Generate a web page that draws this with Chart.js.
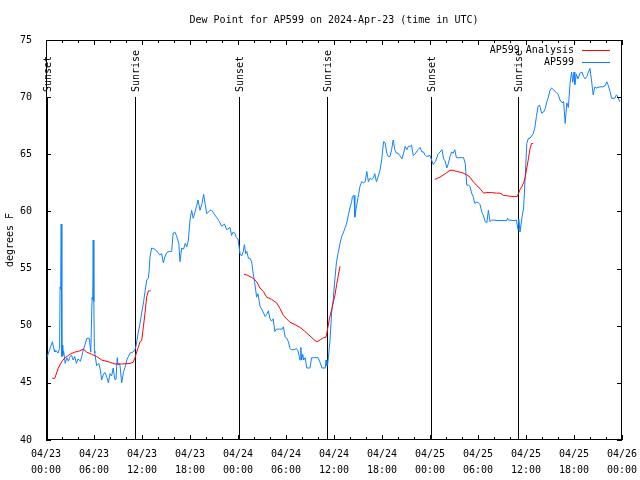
<!DOCTYPE html>
<html>
<head>
<meta charset="utf-8">
<script src="https://cdn.jsdelivr.net/npm/chart.js@4.4.1/dist/chart.umd.min.js"></script>
<style>
  html, body { margin: 0; padding: 0; background: #fff; }
</style>
</head>
<body>
<canvas id="dewChart" width="640" height="480"></canvas>
<script>
// hours since 04/23 00:00 UTC
const stationHours = [
  0.0, 0.1, 0.4, 0.8, 1.0, 1.1, 1.3, 1.5, 1.7, 1.76, 1.84, 1.9, 1.98, 2.05, 2.1, 2.2, 2.4, 2.6, 2.8, 3.0,
  3.2, 3.4, 3.6, 3.8, 4.0, 4.3, 4.5, 4.67, 4.9, 5.1, 5.4, 5.6, 5.76, 5.84, 5.9, 5.98, 6.05, 6.1, 6.33, 6.6,
  6.8, 6.96, 7.2, 7.4, 7.6, 7.8, 8.0, 8.2, 8.4, 8.6, 8.75, 8.9, 9.0, 9.1, 9.25, 9.46, 9.67, 9.9, 10.1, 10.3,
  10.5, 10.9, 11.1, 11.25, 11.5, 11.7, 11.96, 12.2, 12.4, 12.6, 12.8, 12.9, 13.0, 13.2, 13.6, 14.0, 14.2, 14.46, 14.67, 14.9,
  15.1, 15.4, 15.7, 15.9, 16.1, 16.3, 16.6, 16.75, 16.96, 17.2, 17.4, 17.6, 17.8, 18.0, 18.2, 18.4, 18.6, 18.8, 19.0, 19.25,
  19.5, 19.7, 19.9, 20.1, 20.5, 20.7, 21.0, 21.3, 21.6, 21.96, 22.3, 22.6, 23.0, 23.2, 23.4, 23.6, 23.8, 24.0, 24.25, 24.46,
  24.67, 24.8, 24.96, 25.1, 25.3, 25.5, 25.7, 25.9, 26.1, 26.33, 26.5, 26.75, 27.0, 27.2, 27.4, 27.6, 27.8, 28.0, 28.2, 28.4,
  28.6, 28.8, 29.2, 29.5, 29.67, 29.9, 30.1, 30.3, 30.5, 30.7, 31.0, 31.3, 31.5, 31.75, 31.85, 31.96, 32.1, 32.2, 32.4, 32.6,
  33.0, 33.2, 33.6, 34.0, 34.25, 34.5, 34.9, 35.0, 35.1, 35.2, 35.3, 35.5, 35.7, 35.9, 36.1, 36.3, 36.5, 36.75, 36.96, 37.2,
  37.4, 37.6, 37.8, 38.0, 38.2, 38.3, 38.5, 38.6, 38.8, 39.0, 39.25, 39.46, 39.7, 39.9, 40.1, 40.3, 40.5, 40.7, 40.9, 41.1,
  41.3, 41.5, 41.75, 41.96, 42.2, 42.4, 42.6, 42.8, 43.0, 43.2, 43.4, 43.6, 43.8, 44.0, 44.2, 44.5, 44.7, 44.9, 45.1, 45.3,
  45.5, 45.7, 45.9, 46.1, 46.3, 46.5, 46.75, 47.0, 47.2, 47.4, 47.6, 48.0, 48.2, 48.4, 48.7, 49.0, 49.25, 49.5, 49.7, 49.9,
  50.1, 50.3, 50.5, 50.7, 50.9, 51.1, 51.3, 51.6, 52.0, 52.2, 52.4, 52.6, 52.8, 53.0, 53.2, 53.4, 53.6, 53.8, 54.0, 54.25,
  54.5, 54.7, 54.9, 55.1, 55.3, 55.5, 55.7, 56.5, 57.6, 57.7, 57.8, 58.5, 58.8, 59.0, 59.1, 59.25, 59.5, 59.7, 59.9, 60.1,
  60.3, 60.5, 60.9, 61.1, 61.3, 61.5, 61.7, 61.96, 62.2, 62.4, 62.6, 62.8, 63.0, 63.2, 63.5, 63.8, 64.0, 64.25, 64.5, 64.7,
  64.9, 65.1, 65.3, 65.5, 65.7, 65.85, 66.0, 66.1, 66.3, 66.5, 66.75, 67.0, 67.2, 67.4, 67.6, 67.8, 68.0, 68.2, 68.4, 68.6,
  68.8, 69.25, 69.6, 69.9, 70.1, 70.3, 70.5, 70.7, 71.1, 71.3, 71.5, 71.7
];
const stationValues = [
  47.0, 47.2, 47.8, 48.6, 47.9, 47.7, 47.8, 47.6, 48.0, 53.4, 53.2, 58.9, 47.3, 48.3, 47.4, 47.8, 46.7, 47.2, 46.9, 47.3,
  47.4, 47.0, 47.3, 46.7, 47.1, 46.9, 47.4, 47.9, 48.4, 48.9, 48.9, 47.7, 52.5, 52.3, 57.5, 52.1, 47.8, 47.6, 46.5, 46.7,
  46.1, 45.25, 45.8, 45.9, 45.5, 45.0, 45.8, 45.6, 46.3, 45.3, 45.3, 47.2, 46.6, 46.7, 46.5, 45.0, 45.9, 46.4, 47.0, 47.3,
  47.6, 47.7, 47.9, 48.2, 49.3, 50.0, 51.1, 52.1, 53.1, 54.0, 54.2, 54.9, 56.0, 56.8, 56.7, 56.4, 56.2, 56.3, 55.5, 56.1,
  56.4, 56.5, 56.5, 58.1, 58.2, 57.9, 57.2, 55.6, 56.8, 56.7, 57.2, 56.9, 57.5, 59.25, 60.1, 59.4, 59.9, 60.4, 61.0, 60.1,
  60.7, 61.5, 60.6, 59.8, 60.1, 60.1, 59.8, 59.5, 59.2, 58.7, 58.9, 58.4, 58.6, 57.9, 58.2, 58.1, 57.7, 57.6, 56.3, 56.1,
  56.5, 57.1, 56.3, 56.5, 55.9, 55.9, 55.6, 54.6, 53.7, 52.5, 52.8, 51.7, 51.4, 51.1, 50.8, 51.0, 51.3, 50.6, 50.4, 50.6,
  49.5, 49.7, 49.7, 49.7, 49.9, 49.0, 48.9, 48.6, 48.0, 47.9, 47.9, 48.0, 47.8, 47.0, 48.1, 47.0, 47.5, 47.0, 47.2, 46.3,
  46.3, 47.2, 47.2, 47.2, 46.8, 46.3, 46.3, 47.0, 46.5, 46.6, 47.2, 48.75, 51.1, 52.25, 54.0, 55.5, 56.3, 57.2, 57.8, 58.2,
  58.6, 59.0, 59.7, 60.3, 60.85, 61.3, 61.4, 59.5, 60.4, 61.2, 62.2, 62.6, 62.5, 62.6, 63.5, 62.6, 62.9, 62.8, 62.9, 63.3,
  62.6, 63.0, 63.6, 64.5, 66.1, 66.0, 65.1, 64.8, 64.8, 65.4, 66.25, 65.4, 65.1, 65.1, 64.9, 64.6, 65.1, 65.7, 65.4, 65.7,
  65.7, 65.8, 64.9, 65.0, 65.2, 65.4, 65.6, 65.2, 65.2, 64.9, 64.8, 64.9, 64.5, 64.1, 64.4, 65.0, 65.2, 65.4, 64.6, 64.4,
  63.8, 64.2, 64.8, 65.2, 65.1, 65.4, 64.7, 64.7, 64.7, 64.7, 64.2, 62.3, 62.3, 62.2, 61.6, 61.3, 60.7, 60.8, 60.8, 60.6,
  59.9, 59.6, 59.1, 59.0, 60.1, 59.1, 59.25, 59.2, 59.2, 59.4, 59.25, 59.2, 59.25, 58.4, 59.3, 58.2, 59.5, 60.3, 63.0, 65.95,
  66.4, 66.4, 66.8, 67.3, 68.3, 69.2, 69.3, 68.6, 68.7, 69.0, 69.6, 70.0, 70.6, 70.8, 70.6, 70.4, 70.25, 69.75, 69.5, 69.6,
  67.7, 69.5, 69.1, 71.2, 72.2, 71.3, 72.2, 71.1, 72.0, 71.6, 72.1, 72.2, 71.8, 71.6, 71.8, 72.2, 72.5, 71.4, 70.2, 70.9,
  70.8, 70.9, 70.9, 71.0, 71.35, 71.0, 70.5, 69.9, 69.9, 70.2, 70.0, 69.6
];

// analysis runs, null breaks the line between the three runs
const analysisHours = [
  0.79, 1.1, 1.54, 1.96, 2.375, 3.0, 3.625, 4.04, 4.67, 5.08, 5.7, 6.33, 6.96, 7.8, 8.625, 9.46, 10.5, 10.9, 11.125, 11.33,
  11.54, 11.75, 11.96, 12.17, 12.375, 12.58, 12.8, 13.08,
  13.5,
  24.75, 25.08, 25.5, 25.9, 26.33, 26.75, 27.17, 27.58, 28.2, 28.83, 29.25, 29.67, 30.08, 30.5, 31.125, 31.75, 32.375, 33.0, 33.625, 33.9,
  34.25, 34.67, 35.0, 35.17, 35.42, 35.7, 35.9, 36.125, 36.33, 36.54, 36.75,
  37.5,
  48.6, 49.25, 49.9, 50.5, 50.9, 51.3, 52.0, 52.6, 53.0, 53.4, 53.8, 54.25, 54.7, 55.1, 55.7, 56.3, 56.75, 57.2, 57.8, 58.4,
  58.9, 59.25, 59.5, 59.7, 59.9, 60.1, 60.3, 60.5, 60.7, 60.9
];
const analysisValues = [
  45.4, 45.4, 46.3, 46.85, 47.2, 47.5, 47.7, 47.75, 47.95, 47.7, 47.5, 47.3, 47.0, 46.85, 46.65, 46.65, 46.7, 46.8, 47.2, 47.7,
  48.1, 48.6, 48.7, 49.9, 51.1, 52.5, 53.05, 53.05,
  null,
  54.5, 54.45, 54.3, 54.15, 53.85, 53.3, 53.0, 52.5, 52.3, 52.0, 51.5, 50.9, 50.6, 50.3, 50.1, 49.85, 49.5, 49.1, 48.7, 48.6,
  48.75, 48.95, 49.0, 49.6, 50.6, 51.4, 52.0, 52.7, 53.6, 54.4, 55.2,
  null,
  62.8, 63.0, 63.3, 63.6, 63.6, 63.5, 63.4, 63.2, 63.0, 62.6, 62.3, 62.0, 61.6, 61.65, 61.65, 61.6, 61.6, 61.4, 61.35, 61.3,
  61.3, 61.9, 62.2, 62.5, 63.0, 63.8, 64.6, 65.5, 65.95, 65.95
];

const eventHours = [0.08, 11.17, 24.15, 35.15, 48.12, 59.0];
const eventLabels = ['Sunset', 'Sunrise', 'Sunset', 'Sunrise', 'Sunset', 'Sunrise'];

const tickDates = ['04/23', '04/23', '04/23', '04/23', '04/24', '04/24', '04/24', '04/24', '04/25', '04/25', '04/25', '04/25', '04/26'];
const tickTimes = ['00:00', '06:00', '12:00', '18:00', '00:00', '06:00', '12:00', '18:00', '00:00', '06:00', '12:00', '18:00', '00:00'];

const FONT = '"DejaVu Sans Mono", "Liberation Mono", monospace';
const BLUE = '#1080ff';
const RED = '#ff0000';

const toPoints = (xs, ys) => xs.map((h, i) => ({ x: h, y: ys[i] }));

// gnuplot style decorations: frame, inward ticks, sun events, title, legend
const gnuplotDecor = {
  id: 'gnuplotDecor',
  beforeDatasetsDraw(chart) {
    const { ctx, chartArea: a, scales: { x, y } } = chart;
    ctx.save();
    ctx.strokeStyle = '#000';
    ctx.fillStyle = '#000';
    ctx.lineWidth = 1;
    ctx.font = '10px ' + FONT;
    const top = Math.round(y.getPixelForValue(70));
    eventHours.forEach((h, i) => {
      const px = Math.round(x.getPixelForValue(h)) + 0.5;
      ctx.beginPath();
      ctx.moveTo(px, top);
      ctx.lineTo(px, a.bottom);
      ctx.stroke();
      ctx.save();
      ctx.translate(px + 1, top - 5);
      ctx.rotate(-Math.PI / 2);
      ctx.textAlign = 'left';
      ctx.textBaseline = 'middle';
      ctx.fillText(eventLabels[i], 0, 0);
      ctx.restore();
    });
    ctx.restore();
  },
  afterDatasetsDraw(chart) {
    const { ctx, chartArea: a, scales: { x, y } } = chart;
    ctx.save();
    ctx.strokeStyle = '#000';
    ctx.lineWidth = 1;
    ctx.strokeRect(a.left + 0.5, a.top + 0.5, a.right - a.left - 1, a.bottom - a.top - 1);

    ctx.beginPath();
    for (let h = 0; h <= 72; h += 2) {
      const px = Math.round(x.getPixelForValue(h)) + 0.5;
      const len = h % 6 === 0 ? 5 : 3;
      ctx.moveTo(px, a.bottom);
      ctx.lineTo(px, a.bottom - len);
      ctx.moveTo(px, a.top);
      ctx.lineTo(px, a.top + len);
    }
    for (let v = 40; v <= 75; v += 5) {
      const py = Math.round(y.getPixelForValue(v)) + 0.5;
      ctx.moveTo(a.left, py);
      ctx.lineTo(a.left + 5, py);
      ctx.moveTo(a.right, py);
      ctx.lineTo(a.right - 5, py);
    }
    ctx.stroke();

    ctx.fillStyle = '#000';
    ctx.font = '10px ' + FONT;
    ctx.textAlign = 'center';
    ctx.textBaseline = 'middle';
    ctx.fillText('Dew Point for AP599 on 2024-Apr-23 (time in UTC)', (a.left + a.right) / 2, 20);

    const legend = [['AP599 Analysis', RED], ['AP599', BLUE]];
    legend.forEach(([label, color], i) => {
      const ly = 50 + i * 12;
      ctx.fillStyle = '#000';
      ctx.textAlign = 'right';
      ctx.fillText(label, 574, ly);
      ctx.strokeStyle = color;
      ctx.beginPath();
      ctx.moveTo(582, ly + 0.5);
      ctx.lineTo(610, ly + 0.5);
      ctx.stroke();
    });
    ctx.restore();
  }
};

const ctx = document.getElementById('dewChart');
new Chart(ctx, {
  type: 'line',
  data: {
    datasets: [
      {
        label: 'AP599 Analysis',
        data: toPoints(analysisHours, analysisValues),
        borderColor: RED,
        borderWidth: 1,
        pointRadius: 0,
        spanGaps: false
      },
      {
        label: 'AP599',
        data: toPoints(stationHours, stationValues),
        borderColor: BLUE,
        borderWidth: 1,
        pointRadius: 0
      }
    ]
  },
  options: {
    responsive: false,
    animation: false,
    layout: { padding: { top: 40, right: 18, left: 0, bottom: 0 } },
    plugins: {
      legend: { display: false },
      title: { display: false },
      tooltip: { enabled: false }
    },
    scales: {
      x: {
        type: 'linear',
        min: 0,
        max: 72,
        grid: { display: false },
        border: { display: false },
        ticks: {
          stepSize: 6,
          autoSkip: false,
          maxRotation: 0,
          padding: -2,
          color: '#000',
          font: { family: FONT, size: 10, lineHeight: 1.6 },
          callback: (v) => [tickDates[v / 6], tickTimes[v / 6]]
        },
        afterFit: (s) => { s.height = 40; }
      },
      y: {
        min: 40,
        max: 75,
        grid: { display: false },
        border: { display: false },
        ticks: {
          stepSize: 5,
          padding: 6,
          color: '#000',
          font: { family: FONT, size: 10 }
        },
        title: {
          display: true,
          text: 'degrees F',
          color: '#000',
          font: { family: FONT, size: 10 },
          padding: { top: 4, bottom: 0 }
        },
        afterFit: (s) => { s.width = 46; }
      }
    }
  },
  plugins: [gnuplotDecor]
});
</script>
</body>
</html>
